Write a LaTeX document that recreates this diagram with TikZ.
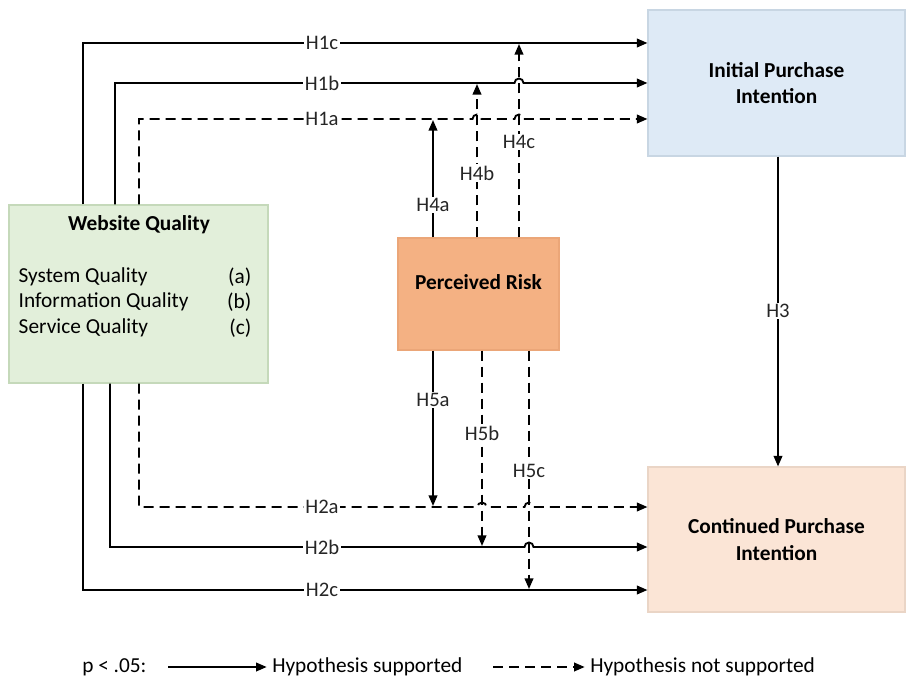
\documentclass[tikz,border=0pt]{standalone}
\usepackage{fontspec}
\setmainfont{Carlito}
\usetikzlibrary{arrows.meta}
\definecolor{wqfill}{HTML}{E2EFDA}
\definecolor{wqdraw}{HTML}{C5D9BA}
\definecolor{prfill}{HTML}{F4B183}
\definecolor{prdraw}{HTML}{EBA678}
\definecolor{ipfill}{HTML}{DEEAF6}
\definecolor{ipdraw}{HTML}{C8D6E3}
\definecolor{cpfill}{HTML}{FBE5D6}
\definecolor{cpdraw}{HTML}{EAD5C6}
\definecolor{lblc}{HTML}{262626}
\begin{document}
\begin{tikzpicture}[x=0.75pt,y=-0.75pt,
  boxst/.style={rectangle, draw=#1, line width=0.8pt, inner sep=0pt},
  conn/.style={line width=1.4pt, -{Triangle[length=8pt,width=6.5pt]}},
  plain/.style={line width=1.4pt},
  dsh/.style={dash pattern=on 7.5pt off 4.5pt},
  lbl/.style={fill=white, inner sep=1.2pt, font=\fontsize{15.5}{18}\selectfont, text=lblc},
  boxtext/.style={font=\fontsize{16}{19}\selectfont\bfseries, align=center, text=black},
  bodytext/.style={font=\fontsize{16}{19}\selectfont, text=black},
  hop/.style={}]
\useasboundingbox (0,0) rectangle (909,680);

% boxes
\node[boxst=wqdraw, fill=wqfill, minimum width=194.25pt, minimum height=133.5pt] (wq) at (138.5,294) {};
\node[boxst=prdraw, fill=prfill, minimum width=120.75pt, minimum height=84pt] (pr) at (478.5,294) {};
\node[boxst=ipdraw, fill=ipfill, minimum width=192.75pt, minimum height=109.5pt, boxtext] (ipi) at (776.5,83) {Initial Purchase\\[1pt]Intention};
\node[boxst=cpdraw, fill=cpfill, minimum width=192.75pt, minimum height=108.75pt, boxtext] (cpi) at (776.5,539.5) {Continued Purchase\\[1pt]Intention};

% box texts
\node[boxtext] (wqt) at (139,225) {Website Quality};
\node[bodytext, anchor=west] (sq) at (14,277) {System Quality};
\node[bodytext, anchor=west] (iq) at (14,302) {Information Quality};
\node[bodytext, anchor=west] (svq) at (14,328) {Service Quality};
\node[bodytext, anchor=east] (qa) at (256,277) {(a)};
\node[bodytext, anchor=east] (qb) at (256,302) {(b)};
\node[bodytext, anchor=east] (qc) at (256,328) {(c)};
\node[boxtext] (prt) at (478.5,282) {Perceived Risk};

% free ends
\coordinate (e4a) at (433,120);
\coordinate (e4b) at (477,84);
\coordinate (e4c) at (519,44);
\coordinate (e5a) at (433,506);
\coordinate (e5b) at (482,546);
\coordinate (e5c) at (529,589);

% vertical connectors from perceived risk
\draw[conn] (pr.north -| 433,0) -- (e4a);
\draw[conn, dsh] (pr.north -| 477,0) -- (e4b);
\draw[conn, dsh] (pr.north -| 519,0) -- (e4c);
\draw[conn] (pr.south -| 433,0) -- (e5a);
\draw[conn, dsh] (pr.south -| 482,0) -- (e5b);
\draw[conn, dsh] (pr.south -| 529,0) -- (e5c);

% H3
\draw[conn] (ipi.south -| 778,0) -- (cpi.north -| 778,0);

% H1 connectors
\draw[conn] (wq.north -| 83,0) -- (83,43) -- (ipi.west |- 0,43);
\draw[conn] (wq.north -| 115,0) -- (115,83) -- (514.5,83)
   arc[start angle=180, end angle=360, radius=4.5] -- (ipi.west |- 0,83);
\draw[conn, dsh] (wq.north -| 139,0) -- (139,119) -- (472.5,119)
   arc[start angle=180, end angle=360, radius=4.5] -- (514.5,119)
   arc[start angle=180, end angle=360, radius=4.5] -- (ipi.west |- 0,119);

% H2 connectors
\draw[conn, dsh] (wq.south -| 139,0) -- (139,507) -- (477.5,507)
   arc[start angle=180, end angle=360, radius=4.5] -- (524.5,507)
   arc[start angle=180, end angle=360, radius=4.5] -- (cpi.west |- 0,507);
\draw[conn] (wq.south -| 110,0) -- (110,547) -- (524.5,547)
   arc[start angle=180, end angle=360, radius=4.5] -- (cpi.west |- 0,547);
\draw[conn] (wq.south -| 83,0) -- (83,590) -- (cpi.west |- 0,590);

% labels
\node[lbl] (l1c) at (322,43) {H1c};
\node[lbl] (l1b) at (322,83) {H1b};
\node[lbl] (l1a) at (322,119) {H1a};
\node[lbl] (l2a) at (322,507) {H2a};
\node[lbl] (l2b) at (322,547) {H2b};
\node[lbl] (l2c) at (322,590) {H2c};
\node[lbl] (l4a) at (433,205) {H4a};
\node[lbl] (l4b) at (477,173) {H4b};
\node[lbl] (l4c) at (519,142) {H4c};
\node[lbl] (l5a) at (433,400) {H5a};
\node[lbl] (l5b) at (482,433) {H5b};
\node[lbl] (l5c) at (529,471) {H5c};
\node[lbl] (l3) at (778,311) {H3};

% legend
\node[bodytext, anchor=west, inner sep=0pt] (pval) at (82,667) {p < .05:};
\coordinate (ls1) at (168,667);
\node[bodytext, anchor=west, inner sep=0pt] (hs) at (272,667) {Hypothesis supported};
\draw[conn] (ls1) -- ([xshift=-4pt]hs.west);
\coordinate (ld1) at (493,667);
\node[bodytext, anchor=west, inner sep=0pt] (hn) at (590,667) {Hypothesis not supported};
\draw[conn, dsh] (ld1) -- ([xshift=-4pt]hn.west);
\end{tikzpicture}
\end{document}
